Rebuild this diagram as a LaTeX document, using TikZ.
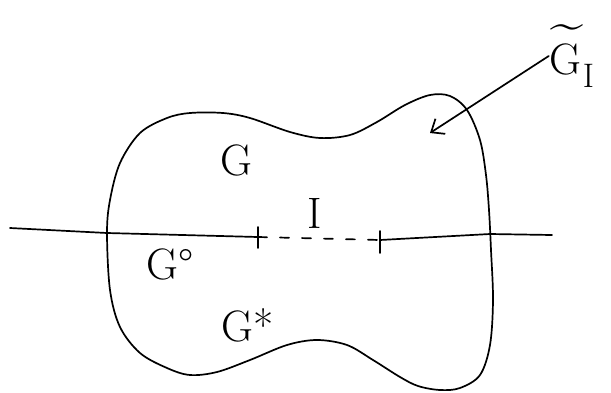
\documentclass[tikz,border=0pt]{standalone}
\usetikzlibrary{arrows.meta, positioning}
\newcommand{\tildeG}{\makebox[0pt][l]{\raisebox{0.8em}{\kern0.02em\scalebox{1.35}[1.1]{\textasciitilde}}}G}
\newcommand{\subI}{\raisebox{-0.3em}{\fontsize{34}{36}\selectfont I}}
\begin{document}
\begin{tikzpicture}[
    x=1pt, y=-1pt,
    every node/.style={font=\fontsize{44}{50}\selectfont, inner sep=1pt},
    pen/.style={line width=1.7pt, line cap=round, line join=round},
    dashseg/.style={pen, dash pattern=on 9pt off 13pt},
    pointer/.style={pen, -{Straight Barb[length=11pt, width=18pt, line width=1.7pt]}},
]
    \useasboundingbox (0,0) rectangle (611,392);

    % the region
    \draw[pen] plot[smooth cycle, tension=0.55] coordinates {
        (107,233) (110,200) (120,163) (140,133) (167,118) (190,113)
        (223,113) (250,118) (290,132) (320,138) (350,135) (377,122)
        (405,105) (430,95) (450,96) (467,110) (480,140) (486,175)
        (489,210) (491,250) (493,300) (490,345) (480,375) (460,388)
        (440,390) (418,386) (400,377) (373,360) (347,345) (317,340)
        (287,345) (250,360) (217,372) (190,375) (167,368) (140,353)
        (120,327) (110,290)};

    % the axis and the interval
    \coordinate (lineL) at (10,228);
    \coordinate (lineR) at (552,235);
    \coordinate (tickA) at (258,237);
    \coordinate (tickB) at (380,240);
    \coordinate (tipGI) at (430,133);

    \draw[pen] (lineL) -- (107,233) -- (tickA);
    \draw[dashseg] (tickA) -- (tickB);
    \draw[pen] (tickB) -- (490,234) -- (lineR);
    \draw[pen] (tickA) ++(0,-10) -- ++(0,21);
    \draw[pen] (tickB) ++(0,-9) -- ++(0,22);

    \node (G) at (236,160) {G};
    \node (I) at (315,213) {I};
    \node (Gzero) at (170,264) {G°};
    \node (Gstar) at (248,325) {G*};
    \node (GI) at (572,56) {\tildeG\kern1pt\subI};

    \draw[pointer] (GI.west) -- (tipGI);
\end{tikzpicture}
\end{document}
